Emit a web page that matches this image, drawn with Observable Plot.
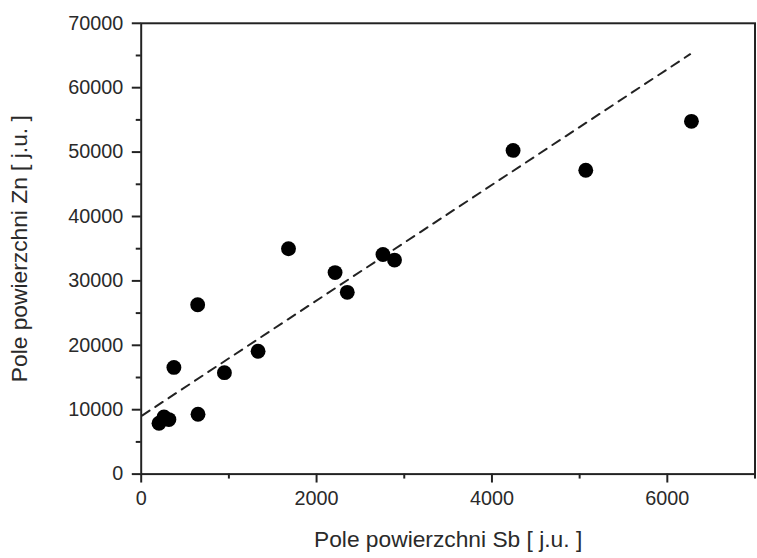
<!DOCTYPE html>
<html>
<head>
<meta charset="utf-8">
<script src="https://cdn.jsdelivr.net/npm/d3@7"></script>
<script src="https://cdn.jsdelivr.net/npm/@observablehq/plot@0.6"></script>
<style>
  html, body { margin: 0; padding: 0; background: #fff; overflow: hidden; }
  #chart { width: 757px; height: 558px; overflow: hidden; }
</style>
</head>
<body>
<div id="chart"></div>
<script>
// Data
const sbArea = [203, 260, 316, 373, 644, 648, 949, 1333, 1680, 2211, 2350, 2757, 2889, 4241, 5070, 6275];
const znArea = [7890, 8880, 8460, 16570, 26300, 9290, 15750, 19080, 35000, 31290, 28220, 34100, 33230, 50260, 47180, 54770];
// Fitted (dashed) line endpoints
const fitX = [10, 6260];
const fitY = [9090, 65200];
// Tick values
const xMajorTicks = [0, 2000, 4000, 6000];
const xMinorTicks = [1000, 3000, 5000, 7000];
const yMajorTicks = [0, 10000, 20000, 30000, 40000, 50000, 60000, 70000];
const yMinorTicks = [5000, 15000, 25000, 35000, 45000, 55000, 65000];
const xLabel = ["Pole powierzchni Sb [ j.u. ]"];
const yLabel = ["Pole powierzchni Zn [ j.u. ]"];

const points = sbArea.map((x, i) => ({x, y: znArea[i]}));
const fit = fitX.map((x, i) => ({x, y: fitY[i]}));

const ink = "#222";
const textInk = "#2a2a2a";
const chart = Plot.plot({
  width: 764,
  height: 558,
  marginLeft: 142,
  marginRight: 2.5,
  marginTop: 23,
  marginBottom: 80,
  style: {fontFamily: "'Liberation Sans', Arial, sans-serif", fontSize: "20px", color: textInk, background: "#fff"},
  x: {domain: [0, 7000]},
  y: {domain: [0, 70000]},
  marks: [
    Plot.frame({stroke: ink, strokeWidth: 2}),
    Plot.axisX({ticks: xMinorTicks, tickSize: 5, text: null, stroke: ink, strokeWidth: 2, label: null}),
    Plot.axisX({ticks: xMajorTicks, tickSize: 9, tickPadding: 8, tickFormat: d => String(d), stroke: ink, strokeWidth: 2,
      fontSize: 20, fill: textInk, label: null}),
    Plot.axisY({ticks: yMinorTicks, tickSize: 5, text: null, stroke: ink, strokeWidth: 2, label: null}),
    Plot.axisY({ticks: yMajorTicks, tickSize: 9, tickPadding: 9, tickFormat: d => String(d), stroke: ink, strokeWidth: 2,
      fontSize: 20, fill: textInk, label: null}),
    Plot.text(xLabel, {frameAnchor: "bottom", dy: 66.5, fontSize: 23, fill: textInk, lineAnchor: "middle", textAnchor: "middle"}),
    Plot.text(yLabel, {frameAnchor: "left", dx: -123, rotate: -90, fontSize: 23, fill: textInk, lineAnchor: "middle", textAnchor: "middle"}),
    Plot.line(fit, {x: "x", y: "y", stroke: ink, strokeWidth: 2, strokeDasharray: "9,7"}),
    Plot.dot(points, {x: "x", y: "y", r: 7.5, fill: "#000", stroke: "none"})
  ]
});
document.getElementById("chart").appendChild(chart);
</script>
</body>
</html>
